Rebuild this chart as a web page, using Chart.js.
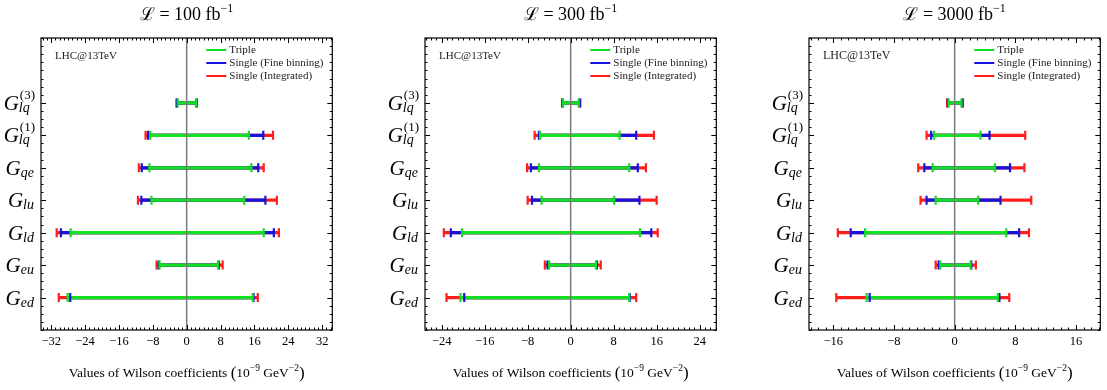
<!DOCTYPE html>
<html>
<head>
<meta charset="utf-8">
<script src="https://cdn.jsdelivr.net/npm/chart.js@4.4.1/dist/chart.umd.min.js"></script>
<style>
  body { margin: 0; background: #fff; }
  .wrap { position: relative; width: 1107px; height: 390px; }
  canvas { position: absolute; top: 0; }
</style>
</head>
<body>
<div class="wrap">
  <canvas id="c100" width="339" height="390" style="left:0px"></canvas>
  <canvas id="c300" width="339" height="390" style="left:384px"></canvas>
  <canvas id="c3000" width="339" height="390" style="left:768px"></canvas>
</div>
<script>
// coefficient labels, top to bottom: [main, subscript, superscript]
const categories = [
  ['G', 'lq', '(3)'],
  ['G', 'lq', '(1)'],
  ['G', 'qe', ''],
  ['G', 'lu', ''],
  ['G', 'ld', ''],
  ['G', 'eu', ''],
  ['G', 'ed', '']
];

// [lower, upper] bounds, same order as categories
const triple100 = [[-2.1, 2.2], [-8.6, 14.7], [-8.8, 15.3], [-8.3, 13.6], [-27.4, 18.2], [-6.4, 7.4], [-28.1, 15.6]];
const fine100   = [[-2.3, 2.3], [-9.1, 18.1], [-10.6, 16.9], [-10.7, 18.6], [-29.7, 20.6], [-6.6, 7.6], [-27.5, 15.8]];
const integ100  = [[-2.4, 2.4], [-9.7, 20.4], [-11.3, 18.2], [-11.5, 21.3], [-30.7, 21.8], [-7.1, 8.5], [-30.2, 16.8]];

const triple300 = [[-1.4, 1.5], [-5.7, 9.1], [-5.9, 10.9], [-5.4, 8.1], [-20.2, 12.9], [-4.0, 4.7], [-20.5, 10.9]];
const fine300   = [[-1.5, 1.7], [-5.9, 12.2], [-7.4, 12.5], [-7.2, 12.8], [-22.3, 15.0], [-4.3, 4.9], [-19.8, 11.0]];
const integ300  = [[-1.6, 1.8], [-6.7, 15.5], [-8.1, 14.0], [-8.0, 16.0], [-23.6, 16.2], [-4.8, 5.6], [-23.1, 12.2]];

const triple3000 = [[-0.8, 0.9], [-2.7, 3.4], [-2.9, 5.3], [-2.5, 3.1], [-11.8, 6.8], [-1.9, 2.1], [-11.6, 5.7]];
const fine3000   = [[-0.9, 1.0], [-3.1, 4.6], [-4.0, 7.3], [-3.7, 6.05], [-13.7, 8.5], [-2.1, 2.2], [-11.2, 5.9]];
const integ3000  = [[-1.0, 1.1], [-3.7, 9.3], [-4.8, 9.2], [-4.5, 10.1], [-15.4, 9.8], [-2.5, 2.8], [-15.6, 7.2]];

const ticks100 = [-32, -24, -16, -8, 0, 8, 16, 24, 32];
const ticks300 = [-24, -16, -8, 0, 8, 16, 24];
const ticks3000 = [-16, -8, 0, 8, 16];

const seriesNames = ['Triple', 'Single (Fine binning)', 'Single (Integrated)'];
const seriesColors = ['#10e020', '#1414dc', '#ff1e1e'];

const SERIF = '"Liberation Serif", "DejaVu Serif", serif';

function drawParts(ctx, parts, x, y, align) {
  let w = 0;
  parts.forEach(p => { ctx.font = p.font; p.w = ctx.measureText(p.t).width; w += p.w; });
  let cx = align === 'center' ? x - w / 2 : align === 'right' ? x - w : x;
  ctx.textAlign = 'left';
  ctx.textBaseline = 'alphabetic';
  parts.forEach(p => { ctx.font = p.font; ctx.fillText(p.t, cx, y + (p.dy || 0)); cx += p.w; });
}

function panelPlugin(lumi, lhcSize) {
  return {
    id: 'panelDecor',
    afterDatasetsDraw(chart) {
      const { ctx, chartArea: a, scales: { x, y } } = chart;
      ctx.save();
      // zero line
      const x0 = x.getPixelForValue(0);
      ctx.strokeStyle = '#7a7a7a';
      ctx.lineWidth = 1.5;
      ctx.beginPath(); ctx.moveTo(x0, a.top); ctx.lineTo(x0, a.bottom); ctx.stroke();

      // frame
      ctx.strokeStyle = '#000';
      ctx.lineWidth = 1.2;
      ctx.strokeRect(a.left, a.top, a.right - a.left, a.bottom - a.top);

      // inward ticks on all four sides
      ctx.lineWidth = 1;
      ctx.beginPath();
      for (let v = Math.ceil(x.min); v <= Math.floor(x.max); v++) {
        const px = Math.round(x.getPixelForValue(v)) + 0.5;
        const len = v % 8 === 0 ? 5 : 2.5;
        ctx.moveTo(px, a.bottom); ctx.lineTo(px, a.bottom - len);
        ctx.moveTo(px, a.top); ctx.lineTo(px, a.top + len);
      }
      for (let v = y.min; v <= y.max + 0.001; v += 0.25) {
        const py = Math.round(y.getPixelForValue(v)) + 0.5;
        const len = (Number.isInteger(v) && v >= 0 && v <= 6) ? 5 : 2.5;
        ctx.moveTo(a.left, py); ctx.lineTo(a.left + len, py);
        ctx.moveTo(a.right, py); ctx.lineTo(a.right - len, py);
      }
      ctx.stroke();

      ctx.fillStyle = '#000';
      // y labels
      categories.forEach((c, i) => {
        const py = y.getPixelForValue(categories.length - 1 - i);
        ctx.font = 'italic 21px ' + SERIF;
        const gw = ctx.measureText(c[0]).width;
        ctx.font = 'italic 14px ' + SERIF;
        const sw = ctx.measureText(c[1]).width;
        ctx.font = '13px ' + SERIF;
        const uw = c[2] ? ctx.measureText(c[2]).width : 0;
        const right = a.left - 6;
        const startX = right - gw - Math.max(sw, uw) - 1;
        ctx.textAlign = 'left';
        ctx.textBaseline = 'alphabetic';
        ctx.font = 'italic 21px ' + SERIF;
        ctx.fillText(c[0], startX, py + 7);
        ctx.font = 'italic 14px ' + SERIF;
        ctx.fillText(c[1], startX + gw, py + 9);
        if (c[2]) {
          ctx.font = '13px ' + SERIF;
          ctx.fillText(c[2], startX + gw + 1, py - 4);
        }
      });

      // annotation
      ctx.font = lhcSize + 'px ' + SERIF;
      ctx.textAlign = 'left';
      ctx.textBaseline = 'middle';
      ctx.fillStyle = '#222';
      ctx.fillText('LHC@13TeV', a.left + 14, a.top + 18);

      // legend
      seriesNames.forEach((n, i) => {
        const ly = a.top + 12 + i * 13;
        const lx = a.right - 126;
        ctx.strokeStyle = seriesColors[i];
        ctx.lineWidth = 2;
        ctx.beginPath(); ctx.moveTo(lx, ly); ctx.lineTo(lx + 20, ly); ctx.stroke();
        ctx.fillStyle = '#222';
        ctx.font = '11px ' + SERIF;
        ctx.textBaseline = 'middle';
        ctx.fillText(n, lx + 23, ly + 0.5);
      });

      // panel title
      const cx = (a.left + a.right) / 2;
      ctx.fillStyle = '#000';
      drawParts(ctx, [
        { t: '\u2112 = ' + lumi + ' fb', font: '18px ' + SERIF },
        { t: '\u22121', font: '12px ' + SERIF, dy: -8 }
      ], cx, 20, 'center');

      // x axis title
      drawParts(ctx, [
        { t: 'Values of Wilson coefficients ', font: '13.5px ' + SERIF },
        { t: '(', font: '17px ' + SERIF, dy: 1 },
        { t: '10', font: '13.5px ' + SERIF },
        { t: '\u22129', font: '9.5px ' + SERIF, dy: -6 },
        { t: ' GeV', font: '13.5px ' + SERIF },
        { t: '\u22122', font: '9.5px ' + SERIF, dy: -6 },
        { t: ')', font: '17px ' + SERIF, dy: 1 }
      ], cx, 377, 'center');
      ctx.restore();
    }
  };
}

function makeChart(id, lumi, triple, fine, integ, tickVals, range, lhcSize) {
  const sets = [triple, fine, integ];
  const datasets = [];
  // caps first so they sit on top of the lines
  sets.forEach((s, k) => {
    datasets.push({
      type: 'scatter',
      data: s.flatMap((b, i) => [{ x: b[0], y: s.length - 1 - i }, { x: b[1], y: s.length - 1 - i }]),
      pointStyle: 'line',
      rotation: 90,
      radius: 4.5,
      hoverRadius: 4.5,
      borderWidth: 2.2,
      borderColor: seriesColors[k],
      backgroundColor: seriesColors[k],
      order: k
    });
  });
  sets.forEach((s, k) => {
    datasets.push({
      type: 'bar',
      indexAxis: 'y',
      data: s.map((b, i) => ({ x: [b[0], b[1]], y: s.length - 1 - i })),
      backgroundColor: seriesColors[k],
      borderWidth: 0,
      barThickness: 2.6,
      grouped: false,
      order: 3 + k
    });
  });

  new Chart(document.getElementById(id), {
    type: 'bar',
    data: { datasets },
    options: {
      responsive: false,
      animation: false,
      indexAxis: 'y',
      layout: { padding: { left: 41, right: 6, top: 38, bottom: 0 } },
      scales: {
        x: {
          type: 'linear',
          min: -range,
          max: range,
          offset: false,
          grid: { display: false, drawTicks: false, offset: false },
          border: { display: false },
          afterBuildTicks: s => { s.ticks = tickVals.map(v => ({ value: v })); },
          afterFit: s => { s.height = 60; },
          ticks: {
            padding: 4,
            color: '#000',
            font: { family: SERIF, size: 12.5 },
            callback: v => (v < 0 ? '\u2212' + Math.abs(v) : String(v))
          }
        },
        y: { type: 'linear', min: -1, max: 8, offset: false, grid: { offset: false }, display: false }
      },
      plugins: { legend: { display: false }, tooltip: { enabled: false } }
    },
    plugins: [panelPlugin(lumi, lhcSize)]
  });
}

makeChart('c100', '100', triple100, fine100, integ100, ticks100, 34.4, 11);
makeChart('c300', '300', triple300, fine300, integ300, ticks300, 27.1, 11);
makeChart('c3000', '3000', triple3000, fine3000, integ3000, ticks3000, 19.2, 12);
</script>
</body>
</html>
